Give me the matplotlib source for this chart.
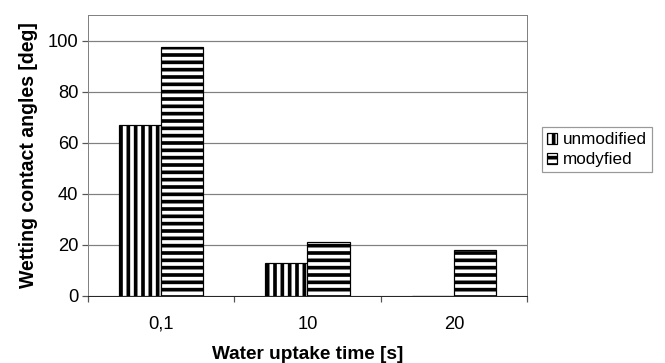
import numpy as np
import matplotlib.pyplot as plt

# data
times = ['0,1', '10', '20']
unmodified = [67, 13, 0]
modyfied = [97.3, 21, 18]

plt.rcParams['font.family'] = ['Liberation Sans', 'DejaVu Sans']
plt.rcParams['hatch.linewidth'] = 3.0
plt.rcParams['hatch.color'] = 'black'

dpi = 88
fig = plt.figure(figsize=(665 / dpi, 363 / dpi), dpi=dpi)
ax = fig.add_axes([0.1323, 0.1846, 0.6602, 0.7741])

x = np.arange(len(times))
w = 0.288
ax.bar(x - w / 2, unmodified, w, facecolor='white', edgecolor='black',
       hatch='||', linewidth=1.0, label='unmodified', zorder=2)
ax.bar(x + w / 2, modyfied, w, facecolor='white', edgecolor='black',
       hatch='--', linewidth=1.0, label='modyfied', zorder=2)

ax.set_xlim(-0.5, 2.5)
ax.set_ylim(0, 110)
ax.set_yticks(range(0, 101, 20))
ax.yaxis.grid(True, color='#808080', linewidth=1.0, zorder=0)
ax.set_axisbelow(True)

ax.set_xticks(x)
ax.set_xticklabels(times)
ax.set_xticks([-0.5, 0.5, 1.5, 2.5], minor=True)
ax.tick_params(axis='x', which='major', length=0, pad=16, labelsize=15)
ax.tick_params(axis='x', which='minor', length=5, color='#555555', width=1)
ax.tick_params(axis='y', length=5, color='#555555', width=1, labelsize=15, pad=3)

for s in ['top', 'right', 'left']:
    ax.spines[s].set_color('#808080')
ax.spines['bottom'].set_color('#222222')
for s in ax.spines.values():
    s.set_zorder(3)

ax.set_ylabel('Wetting contact angles [deg]', fontsize=16, fontweight='bold', labelpad=8)
ax.set_xlabel('Water uptake time [s]', fontsize=15.5, fontweight='bold', labelpad=11)

leg = fig.legend(loc='upper left', bbox_to_anchor=(542 / 665, 1 - 127 / 363),
                 fontsize=14, frameon=True, fancybox=False, handlelength=0.6,
                 handleheight=0.6, handletextpad=0.3, borderpad=0.3,
                 labelspacing=0.3, borderaxespad=0)
leg.get_frame().set_edgecolor('#808080')
leg.get_frame().set_linewidth(1.0)

fig.savefig('out.png', dpi=dpi)
